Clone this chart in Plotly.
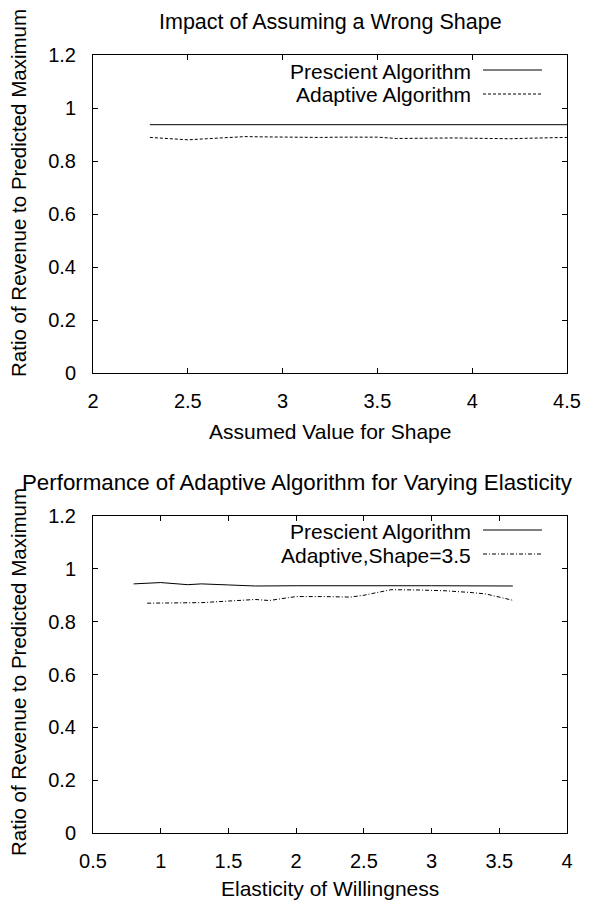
import plotly.graph_objects as go

# ---- data ----
shape_x = [2.3, 2.4, 2.5, 2.6, 2.7, 2.8, 2.9, 3.0, 3.1, 3.2, 3.3, 3.4, 3.5,
           3.6, 3.7, 3.8, 3.9, 4.0, 4.1, 4.2, 4.3, 4.4, 4.5]
shape_prescient = [0.937] * len(shape_x)
shape_adaptive = [0.889, 0.884, 0.880, 0.884, 0.888, 0.892, 0.891, 0.890, 0.889,
                  0.889, 0.890, 0.890, 0.890, 0.885, 0.886, 0.888, 0.887, 0.886,
                  0.885, 0.884, 0.886, 0.888, 0.889]

elast_prescient_x = [0.8, 1.0, 1.2, 1.3, 1.5, 1.7, 2.0, 2.5, 3.0, 3.6]
elast_prescient = [0.943, 0.948, 0.940, 0.943, 0.939, 0.935, 0.936, 0.937, 0.936, 0.935]
elast_adaptive_x = [0.9, 1.1, 1.3, 1.5, 1.7, 1.8, 2.0, 2.2, 2.4, 2.5, 2.7, 2.9,
                    3.1, 3.3, 3.4, 3.6]
elast_adaptive = [0.870, 0.871, 0.872, 0.878, 0.884, 0.880, 0.895, 0.895, 0.893,
                  0.900, 0.921, 0.920, 0.917, 0.910, 0.905, 0.881]

top_xticks = [2, 2.5, 3, 3.5, 4, 4.5]
bot_xticks = [0.5, 1, 1.5, 2, 2.5, 3, 3.5, 4]
yticks = [0, 0.2, 0.4, 0.6, 0.8, 1, 1.2]

W, H = 592, 900
FONT = "Liberation Sans, Arial, sans-serif"

def px(x):
    return x / W

def py(y):
    return 1 - y / H

fig = go.Figure()

fig.add_trace(go.Scatter(x=shape_x, y=shape_prescient, mode="lines",
                         line=dict(color="black", width=1), xaxis="x", yaxis="y",
                         showlegend=False))
fig.add_trace(go.Scatter(x=shape_x, y=shape_adaptive, mode="lines",
                         line=dict(color="black", width=1, dash="3px,2px"),
                         xaxis="x", yaxis="y", showlegend=False))
fig.add_trace(go.Scatter(x=elast_prescient_x, y=elast_prescient, mode="lines",
                         line=dict(color="black", width=1), xaxis="x2", yaxis="y2",
                         showlegend=False))
fig.add_trace(go.Scatter(x=elast_adaptive_x, y=elast_adaptive, mode="lines",
                         line=dict(color="black", width=1, dash="4px,2px,1px,2px"),
                         xaxis="x2", yaxis="y2", showlegend=False))

xdom = [px(93), px(567)]
axis_common = dict(showline=True, linecolor="black", linewidth=1, mirror="ticks",
                   ticks="inside", ticklen=5, tickcolor="black", showgrid=False,
                   zeroline=False, automargin=False,
                   tickfont=dict(family=FONT, size=20, color="black"))

fig.update_layout(
    width=W, height=H, margin=dict(l=0, r=0, t=0, b=0, autoexpand=False),
    paper_bgcolor="white", plot_bgcolor="white",
    font=dict(family=FONT, color="black"),
    xaxis=dict(domain=xdom, range=[2, 4.5], tickvals=top_xticks,
               ticktext=[str(v) for v in top_xticks], anchor="y",
               ticklabelstandoff=10, **axis_common),
    yaxis=dict(domain=[py(373), py(55)], range=[0, 1.2], tickvals=yticks,
               ticktext=[str(v) for v in yticks], anchor="x",
               ticklabelstandoff=12, **axis_common),
    xaxis2=dict(domain=xdom, range=[0.5, 4], tickvals=bot_xticks,
                ticktext=[str(v) for v in bot_xticks], anchor="y2",
                ticklabelstandoff=10, **axis_common),
    yaxis2=dict(domain=[py(833), py(516)], range=[0, 1.2], tickvals=yticks,
                ticktext=[str(v) for v in yticks], anchor="x2",
                ticklabelstandoff=12, **axis_common),
)

def text(x, y, s, size=20, angle=0, xanchor="center"):
    fig.add_annotation(x=px(x), y=py(y), xref="paper", yref="paper", text=s,
                       showarrow=False, textangle=angle, xanchor=xanchor,
                       yanchor="middle", font=dict(family=FONT, size=size, color="black"))

# titles
text(330, 22, "Impact of Assuming a Wrong Shape", size=21.5)
text(297, 483, "Performance of Adaptive Algorithm for Varying Elasticity", size=22.3)
# axis titles
text(330, 431, "Assumed Value for Shape", size=21)
text(330, 888, "Elasticity of Willingness", size=21)
text(18, 193, "Ratio of Revenue to Predicted Maximum", size=20.5, angle=-90)
text(18, 672, "Ratio of Revenue to Predicted Maximum", size=20.5, angle=-90)

# legends (text right-aligned, sample line to the right)
text(473, 71, "Prescient Algorithm", size=21, xanchor="right")
text(473, 95, "Adaptive Algorithm", size=21, xanchor="right")
text(473, 531, "Prescient Algorithm", size=21, xanchor="right")
text(473, 555, "Adaptive,Shape=3.5", size=21, xanchor="right")

def sample(y, dash):
    fig.add_shape(type="line", xref="paper", yref="paper", x0=px(483), x1=px(542),
                  y0=py(y), y1=py(y), line=dict(color="black", width=1, dash=dash))

sample(70, "solid")
sample(94, "3px,2px")
sample(530, "solid")
sample(554, "4px,2px,1px,2px")

fig.write_html("out.html")
